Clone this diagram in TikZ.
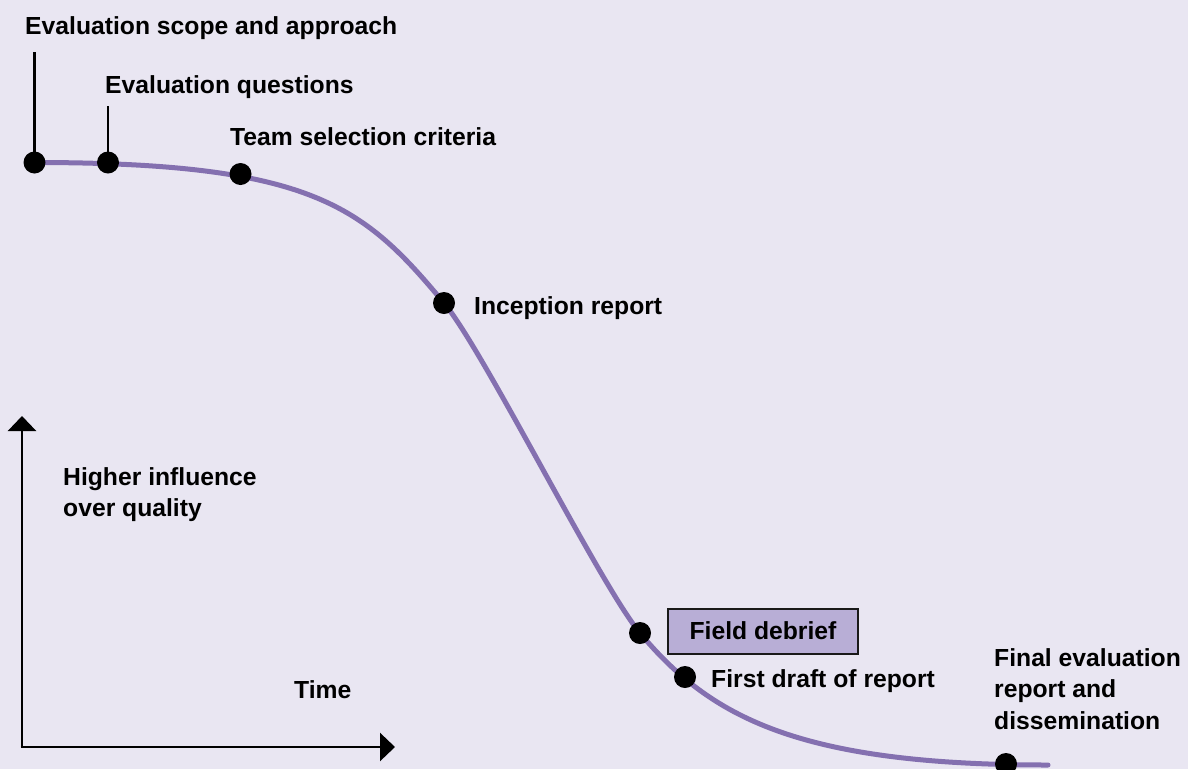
\documentclass[tikz,border=0pt]{standalone}
\usepackage{fontspec}
\setmainfont{Liberation Sans}
\usetikzlibrary{arrows.meta}
\definecolor{bgcol}{HTML}{E9E6F2}
\definecolor{curvecol}{HTML}{8470B0}
\definecolor{boxcol}{HTML}{B8AED6}
\tikzset{
  dotnode/.style={circle,fill=black,inner sep=0pt,minimum size=22pt},
  lbl/.style={anchor=base west,inner sep=0pt,font=\fontsize{24.7}{31.5}\selectfont\bfseries,text=black},
  mlbl/.style={lbl,align=left},
  tickline/.style={line width=2.5pt,black},
  axisline/.style={line width=2.6pt,black,-{Triangle[width=28pt,length=15pt]}},
  curveline/.style={line width=5pt,curvecol,line cap=round},
  debriefbox/.style={draw=black!90,line width=2pt,fill=boxcol,minimum width=190pt,minimum height=45pt,inner sep=0pt,font=\fontsize{24.7}{30}\selectfont\bfseries}
}
\begin{document}
\begin{tikzpicture}[x=1pt,y=-1pt]
\fill[bgcol] (0,0) rectangle (1188,769);
\useasboundingbox (0,0) rectangle (1188,769);

% curve
\coordinate (c0) at (34,162.5);
\coordinate (c1) at (444,303);
\coordinate (c2) at (640,633);
\coordinate (c3) at (1048,765);
\draw[curveline] (c0) .. controls (314,162.5) and (364,207) .. (c1)
  .. controls (484,351) and (600,585) .. (c2)
  .. controls (710,717) and (798,765) .. (c3);

% dots
\node[dotnode] (d1) at (34.5,162.5) {};
\node[dotnode] (d2) at (108,162.5) {};
\node[dotnode] (d3) at (240.5,174) {};
\node[dotnode] (d4) at (444,303) {};
\node[dotnode] (d5) at (640,633) {};
\node[dotnode] (d6) at (685,677) {};
\node[dotnode] (d7) at (1006,764) {};

% tick lines
\coordinate (t1) at (34.5,52);
\coordinate (t2) at (108,106);
\draw[tickline] (d1.center) -- (t1);
\draw[tickline] (d2.center) -- (t2);

% labels
\node[lbl] (l1) at (25,34) {Evaluation scope and approach};
\node[lbl] (l2) at (105,93) {Evaluation questions};
\node[lbl] (l3) at (230,145.5) {Team selection criteria};
\node[lbl] (l4) at (474,314) {Inception report};
\node[debriefbox] (fd) at (763,631) {Field debrief};
\node[lbl] (l6) at (711,687) {First draft of report};
\node[mlbl] (l7) at (994,729) {Final evaluation\\report and\\dissemination};
\node[mlbl] (hy) at (63,516.5) {Higher influence\\over quality};
\node[lbl] (tx) at (294,698) {Time};

% axes
\coordinate (o) at (22,747);
\coordinate (ytip) at (22,416);
\coordinate (xtip) at (395,747);
\draw[axisline] ([yshift=1.3pt]o) -- (ytip);
\draw[axisline] ([xshift=-1.3pt]o) -- (xtip);
\end{tikzpicture}
\end{document}
